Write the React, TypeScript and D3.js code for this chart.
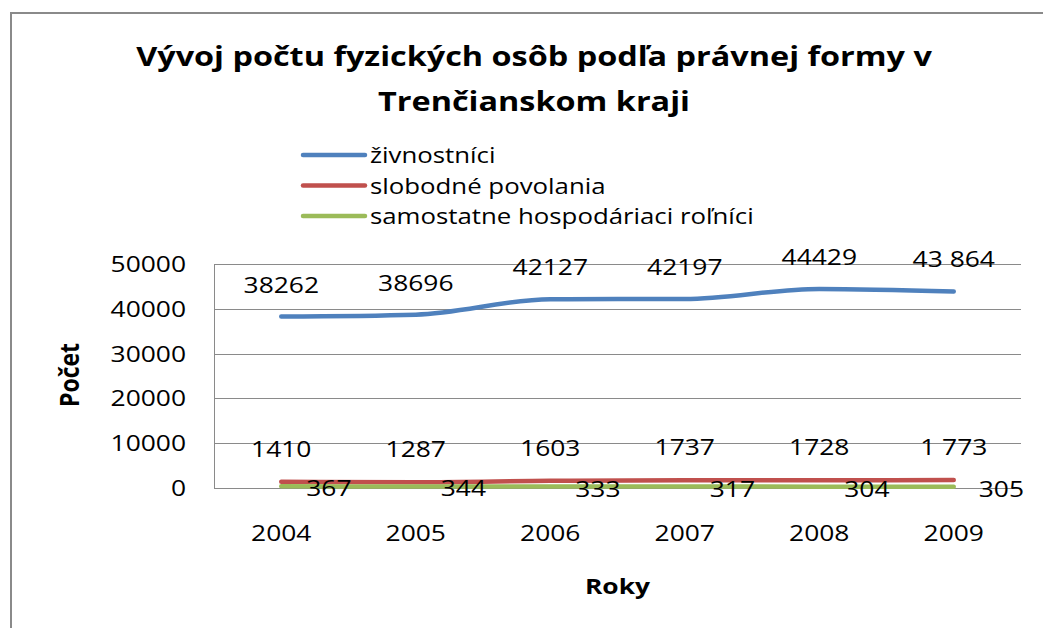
import * as d3 from "d3";

const years = ["2004", "2005", "2006", "2007", "2008", "2009"];
const zivnostnici = [38262, 38696, 42127, 42197, 44429, 43864];
const slobodne = [1410, 1287, 1603, 1737, 1728, 1773];
const rolnici = [367, 344, 333, 317, 304, 305];
const yTicks = [0, 10000, 20000, 30000, 40000, 50000];
// how the numbers are printed on the chart (last one has a space in the source)
const zivLabels = ["38262", "38696", "42127", "42197", "44429", "43 864"];
const slobLabels = ["1410", "1287", "1603", "1737", "1728", "1 773"];

const seriesNames = [
  "živnostníci",
  "slobodné povolania",
  "samostatne hospodáriaci roľníci",
];
const colors = ["#4F81BD", "#C0504D", "#9BBB59"];

const FONT = "'Open Sans', sans-serif";
const SX = 1.2; // the reference text is stretched sideways

function Txt({
  x,
  y,
  children,
  anchor = "middle",
  size = 22,
  bold = false,
  rotate = 0,
}: {
  x: number;
  y: number;
  children: React.ReactNode;
  anchor?: "start" | "middle" | "end";
  size?: number;
  bold?: boolean;
  rotate?: number;
}) {
  // rotated text gets the sideways stretch across its height
  const t = rotate
    ? `translate(${x},${y}) rotate(${rotate}) scale(1,${SX})`
    : `translate(${x},${y}) scale(${SX},1)`;
  return (
    <text
      transform={t}
      textAnchor={anchor}
      fontFamily={FONT}
      fontSize={size}
      fontWeight={bold ? 700 : 400}
      fill="#000"
    >
      {children}
    </text>
  );
}

export default function App() {
  const W = 1043;
  const H = 628;
  const plot = { left: 214, right: 1021, top: 264, bottom: 488 };

  const x = d3
    .scaleBand()
    .domain(years)
    .range([plot.left, plot.right])
    .padding(0);
  const cx = (yr: string) => (x(yr) ?? 0) + x.bandwidth() / 2;
  const y = d3.scaleLinear().domain([0, 50000]).range([plot.bottom, plot.top]);

  const line = d3
    .line<number>()
    .x((_, i) => cx(years[i]))
    .y((d) => y(d))
    .curve(d3.curveMonotoneX);

  const series = [zivnostnici, slobodne, rolnici];

  return (
    <svg
      width={W}
      height={H}
      style={{ position: "absolute", left: 0, top: 0, background: "#fff" }}
    >
      <rect x={0} y={0} width={W} height={H} fill="#fff" />
      {/* chart frame, cut off on the right and bottom */}
      <path d={`M11,${H} V13 H${W}`} fill="none" stroke="#8a8a8a" strokeWidth={2} />

      <Txt x={534} y={66} size={27} bold>
        Vývoj počtu fyzických osôb podľa právnej formy v
      </Txt>
      <Txt x={534} y={111} size={27} bold>
        Trenčianskom kraji
      </Txt>

      {seriesNames.map((name, i) => (
        <g key={name}>
          <line
            x1={303}
            x2={365}
            y1={155 + i * 30.5}
            y2={155 + i * 30.5}
            stroke={colors[i]}
            strokeWidth={4.5}
            strokeLinecap="round"
          />
          <Txt x={370} y={163 + i * 30.5} anchor="start" size={21.5}>
            {name}
          </Txt>
        </g>
      ))}

      {yTicks.map((t) => (
        <g key={t}>
          <line
            x1={plot.left}
            x2={plot.right}
            y1={Math.round(y(t)) + 0.5}
            y2={Math.round(y(t)) + 0.5}
            stroke="#8a8a8a"
            strokeWidth={1}
          />
          <Txt x={186} y={y(t) + 8} anchor="end" size={22}>
            {t}
          </Txt>
        </g>
      ))}
      <line
        x1={plot.left + 0.5}
        x2={plot.left + 0.5}
        y1={plot.top}
        y2={plot.bottom}
        stroke="#8a8a8a"
      />

      {series.map((s, i) => (
        <path
          key={i}
          d={line(s) ?? ""}
          fill="none"
          stroke={colors[i]}
          strokeWidth={4.5}
          strokeLinecap="round"
        />
      ))}

      {zivnostnici.map((v, i) => (
        <Txt key={"z" + i} x={cx(years[i])} y={y(v) - 24} size={22}>
          {zivLabels[i]}
        </Txt>
      ))}
      {slobodne.map((v, i) => (
        <Txt key={"s" + i} x={cx(years[i])} y={y(v) - 25} size={22}>
          {slobLabels[i]}
        </Txt>
      ))}
      {rolnici.map((v, i) => (
        <Txt key={"r" + i} x={cx(years[i]) + 25} y={y(v) + 10} anchor="start" size={22}>
          {v}
        </Txt>
      ))}

      {years.map((yr) => (
        <Txt key={yr} x={cx(yr)} y={541} size={22}>
          {yr}
        </Txt>
      ))}

      <Txt x={(plot.left + plot.right) / 2} y={594} size={22} bold>
        Roky
      </Txt>
      <Txt x={79} y={375} size={23} bold rotate={-90}>
        Počet
      </Txt>
    </svg>
  );
}
